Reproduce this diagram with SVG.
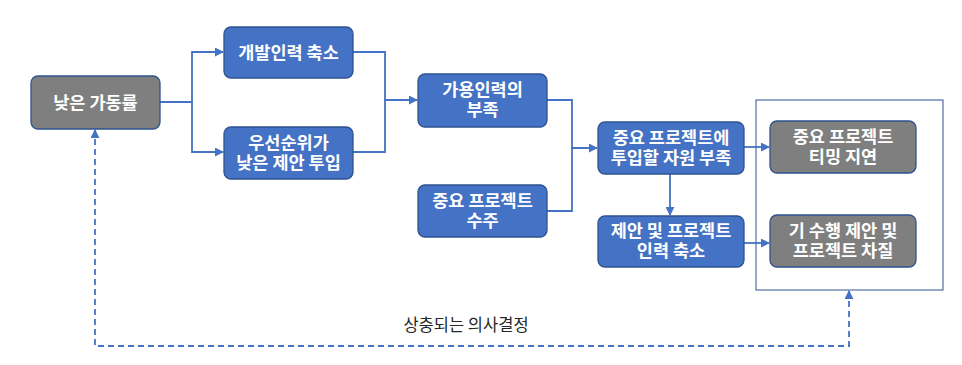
<svg xmlns="http://www.w3.org/2000/svg" width="962" height="365" viewBox="0 0 962 365">
<style>
.b{fill:#4472C4;stroke:#2F528F;stroke-width:1.3}
.g{fill:#7F7F7F;stroke:#2F528F;stroke-width:1.3}
.t{font-family:"Noto Sans CJK KR","Noto Sans",sans-serif;font-weight:bold;font-size:17.5px;fill:#fff;text-anchor:middle}
.c{fill:none;stroke:#4472C4;stroke-width:1.8}
.d{fill:none;stroke:#4472C4;stroke-width:1.8;stroke-dasharray:6 4}
.l{font-family:"Noto Sans CJK KR","Noto Sans",sans-serif;font-size:16.5px;fill:#262626;text-anchor:middle}
</style>
<defs>
<marker id="a" viewBox="0 0 10 10" refX="9" refY="5" markerWidth="5" markerHeight="5" orient="auto-start-reverse" markerUnits="strokeWidth">
<path d="M0,0 L10,5 L0,10 z" fill="#4472C4"/>
</marker>
</defs>
<rect x="756" y="100" width="187" height="190" fill="none" stroke="#2F528F" stroke-width="1"/>
<g id="connectors">
<path class="c" d="M160,102 H192 V52 H223" marker-end="url(#a)"/>
<path class="c" d="M192,102 V152 H223" marker-end="url(#a)"/>
<path class="c" d="M353,52 H385 V100 H417" marker-end="url(#a)"/>
<path class="c" d="M353,152 H385 V100"/>
<path class="c" d="M547,100 H572 V148 H597" marker-end="url(#a)"/>
<path class="c" d="M547,211 H572 V148"/>
<path class="c" d="M670,174 V215" marker-end="url(#a)"/>
<path class="c" d="M744,147 H769" marker-end="url(#a)"/>
<path class="c" d="M744,243 H769" marker-end="url(#a)"/>
<path class="d" d="M849,291 V346 H95 V130" marker-start="url(#a)" marker-end="url(#a)"/>
</g>
<g id="n1"><rect class="g" x="31" y="76" width="129" height="53" rx="7"/><text class="t" x="95.5" y="109">낮은 가동률</text></g>
<g id="n2"><rect class="b" x="224" y="27" width="129" height="51" rx="7"/><text class="t" x="288.5" y="59">개발인력 축소</text></g>
<g id="n3"><rect class="b" x="224" y="127" width="129" height="52" rx="7"/><text class="t" x="288.5" y="149">우선순위가</text><text class="t" x="288.5" y="169">낮은 제안 투입</text></g>
<g id="n4"><rect class="b" x="418" y="74" width="129" height="53" rx="7"/><text class="t" x="482.5" y="96">가용인력의</text><text class="t" x="482.5" y="116">부족</text></g>
<g id="n5"><rect class="b" x="418" y="185" width="129" height="52" rx="7"/><text class="t" x="482.5" y="207">중요 프로젝트</text><text class="t" x="482.5" y="227">수주</text></g>
<g id="n6"><rect class="b" x="598" y="122" width="146" height="52" rx="7"/><text class="t" x="671" y="144">중요 프로젝트에</text><text class="t" x="671" y="164">투입할 자원 부족</text></g>
<g id="n7"><rect class="b" x="598" y="216" width="146" height="51" rx="7"/><text class="t" x="671" y="237">제안 및 프로젝트</text><text class="t" x="671" y="257">인력 축소</text></g>
<g id="n8"><rect class="g" x="770" y="121" width="146" height="52" rx="7"/><text class="t" x="843" y="143">중요 프로젝트</text><text class="t" x="843" y="163">티밍 지연</text></g>
<g id="n9"><rect class="g" x="770" y="215" width="146" height="52" rx="7"/><text class="t" x="843" y="237">기 수행 제안 및</text><text class="t" x="843" y="257">프로젝트 차질</text></g>
<text class="l" x="466" y="331">상충되는 의사결정</text>
</svg>
